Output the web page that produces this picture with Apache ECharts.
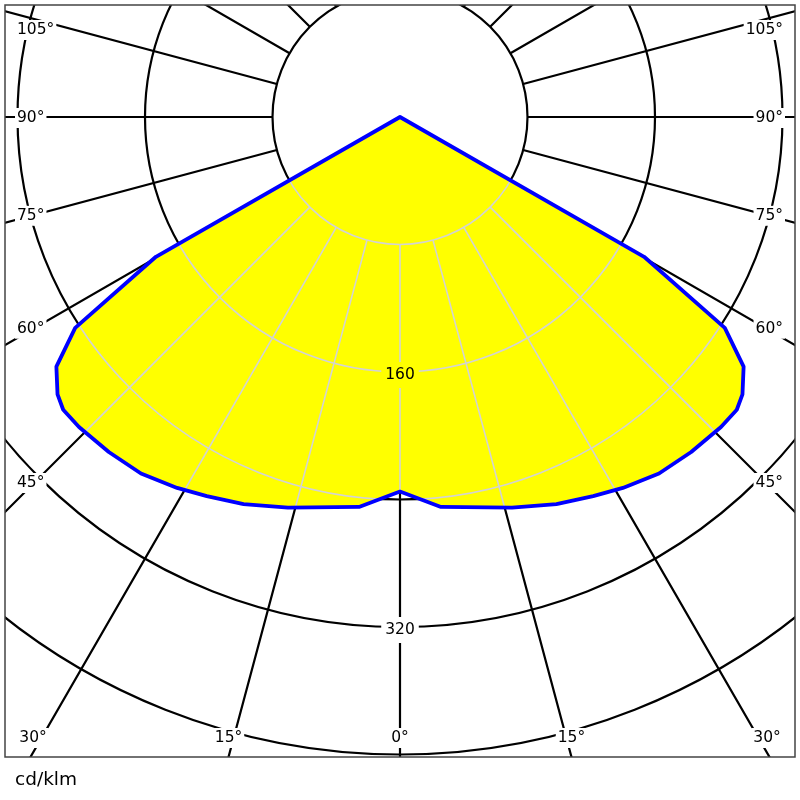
<!DOCTYPE html>
<html><head><meta charset="utf-8">
<script src="https://cdn.jsdelivr.net/npm/echarts@6/dist/echarts.min.js"></script>
<style>html,body{margin:0;padding:0;background:#fff}#c{width:800px;height:800px}</style>
</head><body><div id="c"></div>
<script>
// Luminous intensity distribution (cd/klm), symmetric C0/C180 half-plane
const gammaAngles = [0, 6, 16, 22, 27, 31, 36, 41, 46, 49, 51, 54, 57, 60.2, 180];
const intensity   = [235, 246, 255, 262, 267, 271.5, 276.5, 278.5, 280, 280, 276.5, 266.5, 243, 176.5, 0];
const gridCircles = [80, 160, 240, 320, 400];
const radiusLabelValues = [160, 320];
const angleLabelTicks = [0, 15, 30, 45, 60, 75, 90, 105];
const unitText = 'cd/klm';

// full closed outline: left half then mirrored right half
const polyR = [], polyA = [];
for (let i = 0; i < gammaAngles.length; i++) { polyR.push(intensity[i]); polyA.push(gammaAngles[i]); }
for (let i = gammaAngles.length - 2; i >= 1; i--) { polyR.push(intensity[i]); polyA.push(360 - gammaAngles[i]); }

const FONT = '15.5px "DejaVu Sans"';
const FRAME = {x: 5, y: 5, w: 790, h: 752};

function pts(api) { return polyR.map((r, i) => api.coord([r, polyA[i]])); }

const chart = echarts.init(document.getElementById('c'), null, {renderer: 'canvas'});
chart.setOption({
  animation: false,
  backgroundColor: '#ffffff',
  polar: {center: [400, 117], radius: [127.5, 892.5]},
  radiusAxis: {
    type: 'value', min: 80, max: 560, interval: 80,
    axisLine: {show: false}, axisTick: {show: false}, axisLabel: {show: false},
    splitLine: {show: true, lineStyle: {color: '#000', width: 2.2}}
  },
  angleAxis: {
    type: 'value', min: 0, max: 360, interval: 15, startAngle: 270, clockwise: true,
    axisLine: {show: false}, axisTick: {show: false}, axisLabel: {show: false},
    splitLine: {show: true, lineStyle: {color: '#000', width: 2.2}}
  },
  series: [
    {
      type: 'custom', coordinateSystem: 'polar', z: 2, clip: false, silent: true,
      data: [[0, 0]],
      renderItem: (p, api) => ({type: 'polygon', shape: {points: pts(api)}, style: {fill: '#ffff00', stroke: null}})
    },
    {
      type: 'custom', coordinateSystem: 'polar', z: 3, clip: false, silent: true,
      data: [[0, 0]],
      renderItem: (p, api) => {
        const c = api.coord([0, 0]);
        const children = [];
        gridCircles.forEach(v => {
          const q = api.coord([v, 0]);
          const r = Math.hypot(q[0] - c[0], q[1] - c[1]);
          children.push({type: 'circle', shape: {cx: c[0], cy: c[1], r: r}, style: {fill: null, stroke: '#d3d3d3', lineWidth: 1.6}});
        });
        for (let a = 0; a < 360; a += 15) {
          const s = api.coord([80, a]), e = api.coord([560, a]);
          children.push({type: 'line', shape: {x1: s[0], y1: s[1], x2: e[0], y2: e[1]}, style: {stroke: '#d3d3d3', lineWidth: 1.6}});
        }
        return {type: 'group', children: children, clipPath: {type: 'polygon', shape: {points: pts(api)}}};
      }
    },
    {
      type: 'custom', coordinateSystem: 'polar', z: 4, clip: false, silent: true,
      data: [[0, 0]],
      renderItem: (p, api) => ({type: 'polygon', shape: {points: pts(api)}, style: {fill: null, stroke: '#0000ff', lineWidth: 3.8, lineJoin: 'round'}})
    },
    {
      type: 'custom', coordinateSystem: 'polar', z: 60, clip: false, silent: true,
      data: [[0, 0]],
      renderItem: (p, api) => {
        const c = api.coord([0, 0]);
        const children = [];
        const bottom = FRAME.y + FRAME.h;
        angleLabelTicks.forEach(a => {
          const sides = (a === 0) ? [0] : [a, 360 - a];
          sides.forEach(ang => {
            const q = api.coord([560, ang]);
            const dx = q[0] - c[0], dy = q[1] - c[1];
            let x, y, align;
            if (a <= 30) {
              const t = (bottom - c[1]) / dy;
              x = Math.min(Math.max(c[0] + t * dx, 33), 767);
              y = 738; align = 'center';
            } else {
              const xi = dx < 0 ? 35 : 765;
              const t = (xi - c[0]) / dx;
              y = Math.max(c[1] + t * dy, 29) + 1;
              x = dx < 0 ? 15 : 785; align = dx < 0 ? 'left' : 'right';
            }
            children.push({type: 'text', x: x, y: y, style: {
              text: a + '°', font: FONT, fill: '#000', align: align, verticalAlign: 'middle',
              textAlign: align, textVerticalAlign: 'middle', backgroundColor: '#fff', padding: [2, 2]}});
          });
        });
        radiusLabelValues.forEach(v => {
          const q = api.coord([v, 0]);
          const bg = v < intensity[0] ? '#ffff00' : '#ffffff';
          children.push({type: 'text', x: q[0], y: q[1] + 3, style: {
            text: String(v), font: FONT, fill: '#000', align: 'center', verticalAlign: 'middle',
            textAlign: 'center', textVerticalAlign: 'middle', backgroundColor: bg, padding: [5, 4]}});
        });
        return {type: 'group', children: children};
      }
    }
  ],
  graphic: [
    {type: 'rect', z: 50, silent: true, shape: {x: 0, y: 0, width: 800, height: FRAME.y}, style: {fill: '#fff'}},
    {type: 'rect', z: 50, silent: true, shape: {x: 0, y: 0, width: FRAME.x, height: 800}, style: {fill: '#fff'}},
    {type: 'rect', z: 50, silent: true, shape: {x: FRAME.x + FRAME.w, y: 0, width: 10, height: 800}, style: {fill: '#fff'}},
    {type: 'rect', z: 50, silent: true, shape: {x: 0, y: FRAME.y + FRAME.h, width: 800, height: 50}, style: {fill: '#fff'}},
    {type: 'rect', z: 51, silent: true, shape: {x: FRAME.x, y: FRAME.y, width: FRAME.w, height: FRAME.h}, style: {fill: null, stroke: '#444', lineWidth: 1.5}},
    {type: 'text', z: 52, silent: true, x: 15, y: 780, style: {text: unitText, font: '18.5px "DejaVu Sans"', fill: '#000', textVerticalAlign: 'middle', verticalAlign: 'middle'}}
  ]
});
</script></body></html>
